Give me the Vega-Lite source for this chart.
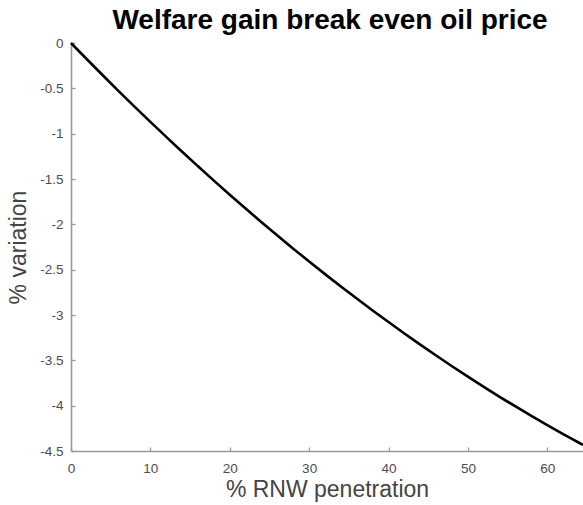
{
  "$schema": "https://vega.github.io/schema/vega-lite/v6.json",
  "width": 512,
  "height": 408,
  "autosize": "none",
  "padding": {"left": 71, "top": 43, "right": 0, "bottom": 54},
  "background": "white",
  "title": {
    "text": "Welfare gain break even oil price",
    "font": "Liberation Sans",
    "fontSize": 28,
    "fontWeight": "bold",
    "color": "#000000",
    "anchor": "middle",
    "frame": "group",
    "offset": 1,
    "dx": 3
  },
  "config": {
    "view": {"stroke": null},
    "axis": {
      "grid": false,
      "domainColor": "#999999",
      "domainWidth": 1.6,
      "tickColor": "#999999",
      "tickWidth": 1.3,
      "tickSize": -4,
      "labelFont": "Liberation Sans",
      "labelFontSize": 13.5,
      "labelColor": "#4d4d4d",
      "titleFont": "Liberation Sans",
      "titleFontWeight": "normal",
      "titleColor": "#444444"
    }
  },
  "data": {
    "values": [
      {"x": 0, "y": 0},
      {"x": 2, "y": -0.179},
      {"x": 4, "y": -0.356},
      {"x": 6, "y": -0.530},
      {"x": 8, "y": -0.702},
      {"x": 10, "y": -0.870},
      {"x": 12, "y": -1.036},
      {"x": 14, "y": -1.200},
      {"x": 16, "y": -1.360},
      {"x": 18, "y": -1.518},
      {"x": 20, "y": -1.674},
      {"x": 22, "y": -1.826},
      {"x": 24, "y": -1.976},
      {"x": 26, "y": -2.123},
      {"x": 28, "y": -2.268},
      {"x": 30, "y": -2.410},
      {"x": 32, "y": -2.549},
      {"x": 34, "y": -2.685},
      {"x": 36, "y": -2.819},
      {"x": 38, "y": -2.950},
      {"x": 40, "y": -3.078},
      {"x": 42, "y": -3.204},
      {"x": 44, "y": -3.327},
      {"x": 46, "y": -3.447},
      {"x": 48, "y": -3.565},
      {"x": 50, "y": -3.680},
      {"x": 52, "y": -3.792},
      {"x": 54, "y": -3.902},
      {"x": 56, "y": -4.009},
      {"x": 58, "y": -4.113},
      {"x": 60, "y": -4.214},
      {"x": 62, "y": -4.313},
      {"x": 64, "y": -4.409},
      {"x": 64.5, "y": -4.433}
    ]
  },
  "mark": {"type": "line", "color": "#000000", "strokeWidth": 2.6, "interpolate": "monotone"},
  "encoding": {
    "x": {
      "field": "x",
      "type": "quantitative",
      "scale": {"domain": [0, 64.5], "nice": false, "zero": false},
      "axis": {
        "title": "% RNW penetration",
        "titleFontSize": 23,
        "titlePadding": 4,
        "values": [0, 10, 20, 30, 40, 50, 60],
        "labelExpr": "'' + datum.value",
        "labelPadding": 14,
        "labelFlush": false
      }
    },
    "y": {
      "field": "y",
      "type": "quantitative",
      "scale": {"domain": [-4.5, 0], "nice": false, "zero": false},
      "axis": {
        "title": "% variation",
        "titleFontSize": 23,
        "titlePadding": 9,
        "values": [0, -0.5, -1, -1.5, -2, -2.5, -3, -3.5, -4, -4.5],
        "labelExpr": "'' + datum.value",
        "labelPadding": 12,
        "labelFlush": false
      }
    }
  }
}
